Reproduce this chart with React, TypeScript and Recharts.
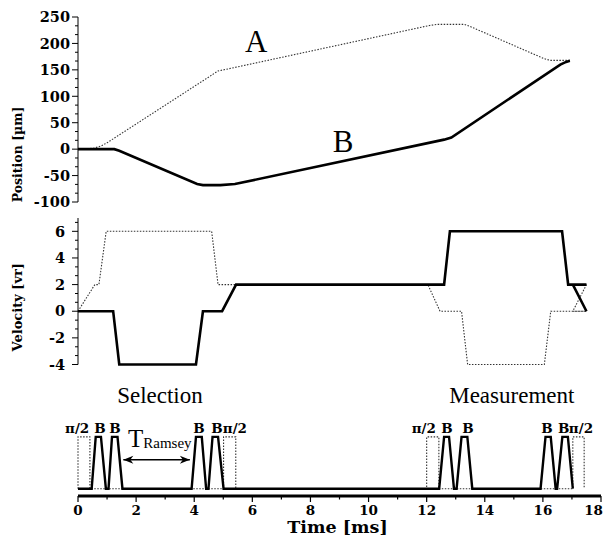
import React from 'react';
import { LineChart, Line, XAxis, YAxis, ReferenceDot } from 'recharts';

const W = 609;
const H = 538;

const tickFont = '"DejaVu Serif", serif';
const textFont = '"Liberation Serif", "Times New Roman", serif';

// time axis (ms)
const timeTicks = [0, 1, 2, 3, 4, 5, 6, 7, 8, 9, 10, 11, 12, 13, 14, 15, 16, 17, 18];
const timeLabels = [0, 2, 4, 6, 8, 10, 12, 14, 16, 18];

// position panel
const positionLabels = [-100, -50, 0, 50, 100, 150, 200, 250];
const positionMinor = [-83.3, -66.7, -33.3, -16.7, 16.7, 33.3, 66.7, 83.3, 116.7, 133.3, 166.7, 183.3, 216.7, 233.3];
const positionA = [
  [0, 0], [0.3, 0.5], [0.55, 2], [0.8, 6], [1.0, 12], [4.6, 140], [4.82, 148], [5.1, 151],
  [12.1, 234], [12.35, 236], [13.3, 236], [13.5, 232], [16.05, 171], [16.25, 168], [16.93, 168],
];
const positionB = [
  [0, 0], [1.25, 0], [1.42, -3], [4.1, -66], [4.3, -68], [4.9, -68], [5.4, -66],
  [12.6, 18], [12.85, 22], [16.6, 160], [16.8, 165], [16.93, 167],
];
const positionNotes = [
  { t: 6.13, v: 183.7, text: 'A' },
  { t: 9.12, v: -5.7, text: 'B' },
];

// velocity panel
const velocityLabels = [-4, -2, 0, 2, 4, 6];
const velocityMinor = [-3.33, -2.67, -1.33, -0.67, 0.67, 1.33, 2.67, 3.33, 4.67, 5.33, 6.67];
const velocityA = [
  [0, 0], [0.58, 2], [0.72, 2], [0.97, 6], [4.6, 6], [4.82, 2], [12.04, 2], [12.46, 0],
  [13.2, 0], [13.41, -4], [16.05, -4], [16.27, 0], [17.5, 0], [17.03, 0], [17.5, 2],
];
const velocityB = [
  [0, 0], [1.21, 0], [1.42, -4], [4.06, -4], [4.3, 0], [4.96, 0], [5.44, 2], [12.6, 2],
  [12.8, 6], [16.66, 6], [16.87, 2], [17.5, 2], [17.03, 2], [17.5, 0],
];

// pulse sequence: [rise start, top start, top end, fall end]
const braggPulses = [
  [0.47, 0.61, 0.79, 0.96], [1.05, 1.17, 1.36, 1.53], [3.91, 4.06, 4.26, 4.41], [4.49, 4.63, 4.82, 5.01],
  [12.43, 12.6, 12.77, 12.94], [13.03, 13.2, 13.4, 13.57], [15.92, 16.09, 16.27, 16.44], [16.49, 16.67, 16.86, 17.03],
];
const ramseyPulses = [[0, 0.41], [5.01, 5.43], [12.0, 12.42], [17.03, 17.42]];
const pulseNotes = [
  { t: -0.03, text: 'π/2' }, { t: 0.76, text: 'B' }, { t: 1.27, text: 'B' },
  { t: 4.16, text: 'B' }, { t: 4.78, text: 'B' }, { t: 5.4, text: 'π/2' },
  { t: 11.9, text: 'π/2' }, { t: 12.7, text: 'B' }, { t: 13.42, text: 'B' },
  { t: 16.14, text: 'B' }, { t: 16.72, text: 'B' }, { t: 17.31, text: 'π/2' },
];
const pulseNoteLevel = 1.08;
const phaseNotes = [
  { t: 2.82, v: 1.66, text: 'Selection' },
  { t: 14.93, v: 1.66, text: 'Measurement' },
];
const ramseyArrow = [
  { t: 1.56, v: 0.56 },
  { t: 3.85, v: 0.56 },
];
const ramseyNote = { t: 1.72, v: 0.81 };

const toPoints = (pairs: number[][]) => pairs.map(([t, v]) => ({ t, v }));

const braggLine = [
  { t: 0, v: 0 },
  ...braggPulses.flatMap((p) => [
    { t: p[0], v: 0 }, { t: p[1], v: 1 }, { t: p[2], v: 1 }, { t: p[3], v: 0 },
  ]),
];
const ramseyLine = ramseyPulses.flatMap((p) => [
  { t: p[0], v: 0 }, { t: p[0], v: 1 }, { t: p[1], v: 1 }, { t: p[1], v: 0 },
]);

const makeYTick = (labels: number[], gap: number) => (props: any) => {
  const { x, y, payload } = props;
  const axisX = x + 8;
  const major = labels.includes(payload.value);
  return (
    <g>
      <line x1={axisX - (major ? 6 : 3)} y1={y} x2={axisX} y2={y} stroke="#000" strokeWidth={1} />
      {major && (
        <text x={axisX - gap} y={y} dy="0.36em" textAnchor="end" fontFamily={tickFont}
          fontWeight="bold" fontSize={14.5} fill="#000">
          {payload.value}
        </text>
      )}
    </g>
  );
};

const TimeTick = (props: any) => {
  const { x, y, payload } = props;
  const axisY = y - 8;
  const major = timeLabels.includes(payload.value);
  // the last label sits just inside the right edge, as in the original
  const isLast = payload.value === timeLabels[timeLabels.length - 1];
  return (
    <g>
      <line x1={x} y1={axisY} x2={x} y2={axisY + (major ? 6 : 3.5)} stroke="#000" strokeWidth={1.2} />
      {major && (
        <text x={isLast ? x + 2 : x} y={axisY + 19} textAnchor={isLast ? 'end' : 'middle'} fontFamily={tickFont}
          fontWeight="bold" fontSize={13.5} fill="#000">
          {payload.value}
        </text>
      )}
    </g>
  );
};

const VerticalTitle = ({ viewBox, text, shift, size }: any) => {
  const cx = viewBox.x - 1;
  const cy = viewBox.y + viewBox.height / 2 + shift;
  return (
    <text transform={`translate(${cx},${cy}) rotate(-90)`} textAnchor="middle" dominantBaseline="central"
      fontFamily={tickFont} fontWeight="bold" fontSize={size} fill="#000">
      {text}
    </text>
  );
};

const TimeTitle = ({ viewBox }: any) => (
  <text x={viewBox.x + viewBox.width / 2 - 2} y={viewBox.y + 37} textAnchor="middle"
    fontFamily={tickFont} fontWeight="bold" fontSize={17.5} fill="#000">
    Time [ms]
  </text>
);

const textShape = (text: string, size: number, bold = false, font = textFont) => (p: any) => (
  <text x={p.cx} y={p.cy} textAnchor="middle" fontFamily={font} fontWeight={bold ? 'bold' : 'normal'}
    fontSize={size} fill="#000">
    {text}
  </text>
);

const ramseyShape = (p: any) => (
  <text x={p.cx} y={p.cy} fontFamily={textFont} fill="#000">
    <tspan fontSize={25}>T</tspan>
    <tspan fontSize={15} dy={1}>Ramsey</tspan>
  </text>
);

const ArrowHead = (p: any) => {
  const { cx, cy, index } = p;
  const dir = index === 0 ? 1 : -1;
  return (
    <polygon key={`head-${index}`}
      points={`${cx},${cy} ${cx + dir * 10},${cy - 4} ${cx + dir * 7},${cy} ${cx + dir * 10},${cy + 4}`}
      fill="#000" />
  );
};

const layer: React.CSSProperties = { position: 'absolute', left: 0, top: 0, width: W, height: H };
const dotted = { stroke: '#333', strokeWidth: 1.1, strokeDasharray: '1.5 1.5' };
const solid = { stroke: '#000', strokeWidth: 2.6 };

export default function App() {
  return (
    <div style={{ ...layer, background: '#fff' }}>
      <div style={layer}>
        <LineChart width={W} height={H} margin={{ top: 17, right: 8, bottom: 336, left: 18 }}>
          <XAxis type="number" dataKey="t" domain={[0, 18]} hide />
          <YAxis type="number" domain={[-100, 250]} ticks={[...positionLabels, ...positionMinor]} interval={0}
            width={60} tickSize={6} tickMargin={2} tickLine={false} tick={makeYTick(positionLabels, 8)}
            axisLine={{ stroke: '#000', strokeWidth: 1 }}
            label={<VerticalTitle text="Position [µm]" shift={45} size={12.5} />} />
          <Line data={toPoints(positionA)} dataKey="v" type="linear" dot={false} activeDot={false}
            isAnimationActive={false} {...dotted} />
          <Line data={toPoints(positionB)} dataKey="v" type="linear" dot={false} activeDot={false}
            isAnimationActive={false} {...solid} />
          {positionNotes.map((n) => (
            <ReferenceDot key={n.text} x={n.t} y={n.v} r={1} ifOverflow="visible" shape={textShape(n.text, 31)} />
          ))}
        </LineChart>
      </div>
      <div style={layer}>
        <LineChart width={W} height={H} margin={{ top: 218, right: 8, bottom: 173.5, left: 18 }}>
          <XAxis type="number" dataKey="t" domain={[0, 18]} hide />
          <YAxis type="number" domain={[-4, 7]} ticks={[...velocityLabels, ...velocityMinor]} interval={0}
            width={60} tickSize={6} tickMargin={2} tickLine={false} tick={makeYTick(velocityLabels, 13)}
            axisLine={{ stroke: '#000', strokeWidth: 1 }}
            label={<VerticalTitle text="Velocity [vr]" shift={16} size={13} />} />
          <Line data={toPoints(velocityA)} dataKey="v" type="linear" dot={false} activeDot={false}
            isAnimationActive={false} {...dotted} />
          <Line data={toPoints(velocityB)} dataKey="v" type="linear" dot={false} activeDot={false}
            isAnimationActive={false} {...solid} />
        </LineChart>
      </div>
      <div style={layer}>
        <LineChart width={W} height={H} margin={{ top: 385, right: 8, bottom: 0, left: 78 }}>
          <XAxis type="number" dataKey="t" domain={[0, 18]} ticks={timeTicks} interval={0} height={42}
            tickSize={6} tickMargin={2} tickLine={false} tick={TimeTick}
            axisLine={{ stroke: '#000', strokeWidth: 3 }} label={<TimeTitle />} />
          <YAxis type="number" domain={[-0.14, 2]} hide />
          <Line data={ramseyLine} dataKey="v" type="linear" dot={false} activeDot={false}
            isAnimationActive={false} {...dotted} />
          <Line data={braggLine} dataKey="v" type="linear" dot={false} activeDot={false}
            isAnimationActive={false} stroke="#000" strokeWidth={2.4} />
          <Line data={ramseyArrow} dataKey="v" type="linear" dot={ArrowHead} activeDot={false}
            isAnimationActive={false} stroke="#000" strokeWidth={1.5} />
          {pulseNotes.map((n, i) => (
            <ReferenceDot key={i} x={n.t} y={pulseNoteLevel} r={1} ifOverflow="visible"
              shape={textShape(n.text, 13.5, true, tickFont)} />
          ))}
          {phaseNotes.map((n) => (
            <ReferenceDot key={n.text} x={n.t} y={n.v} r={1} ifOverflow="visible" shape={textShape(n.text, 23)} />
          ))}
          <ReferenceDot x={ramseyNote.t} y={ramseyNote.v} r={1} ifOverflow="visible" shape={ramseyShape} />
        </LineChart>
      </div>
    </div>
  );
}
